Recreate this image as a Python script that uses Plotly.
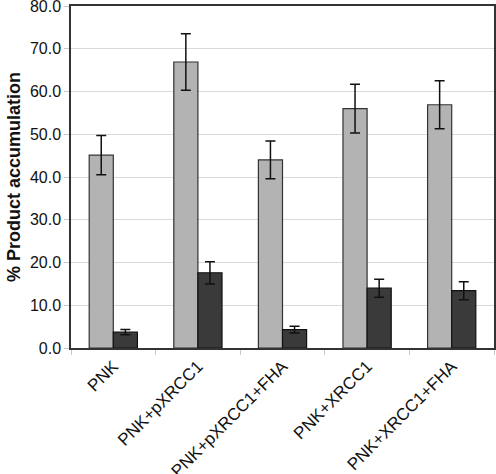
import plotly.graph_objects as go

categories = ["PNK", "PNK+pXRCC1", "PNK+pXRCC1+FHA", "PNK+XRCC1", "PNK+XRCC1+FHA"]
light_vals = [45.1, 66.9, 44.0, 56.0, 56.9]
light_err = [4.6, 6.6, 4.4, 5.7, 5.6]
dark_vals = [3.7, 17.6, 4.3, 14.0, 13.4]
dark_err = [0.6, 2.6, 0.8, 2.1, 2.1]
y_ticks = [0, 10, 20, 30, 40, 50, 60, 70, 80]

fig = go.Figure()
fig.add_trace(go.Bar(
    x=categories, y=light_vals,
    marker=dict(color="#b3b3b3", line=dict(color="#333333", width=1.2)),
    error_y=dict(type="data", array=light_err, color="#111111", thickness=1.5, width=5),
    showlegend=False,
))
fig.add_trace(go.Bar(
    x=categories, y=dark_vals,
    marker=dict(color="#3a3a3a", line=dict(color="#111111", width=1.2)),
    error_y=dict(type="data", array=dark_err, color="#111111", thickness=1.5, width=5),
    showlegend=False,
))

fig.update_layout(
    width=496, height=474,
    margin=dict(l=71, r=2, t=6, b=126),
    barmode="group", bargap=0.43, bargroupgap=0,
    plot_bgcolor="white", paper_bgcolor="white",
    font=dict(family="Liberation Sans, Arial, sans-serif", color="#111111", size=16),
    xaxis=dict(
        tickangle=-45, tickson="boundaries", ticks="outside", ticklen=5,
        tickcolor="#c8c8c8", showline=True, linecolor="#333333", linewidth=1.5,
        mirror=True, tickfont=dict(size=17), automargin=False,
    ),
    yaxis=dict(
        range=[0, 80], tickvals=y_ticks,
        ticktext=[f"{v:.1f}" for v in y_ticks],
        showgrid=True, gridcolor="#d9d9d9", gridwidth=1,
        ticks="outside", ticklen=5, tickcolor="#c8c8c8",
        showline=True, linecolor="#333333", linewidth=1.5, mirror=True,
        zeroline=False, tickfont=dict(size=16), automargin=False,
        ticklabeloverflow="allow",
        title=dict(text="<b>% Product accumulation</b>", font=dict(size=18), standoff=5),
    ),
)

fig.write_html(
    "out.html",
    config={"displayModeBar": False},
    post_script="document.body.style.margin='0';document.body.style.overflow='hidden';",
)
